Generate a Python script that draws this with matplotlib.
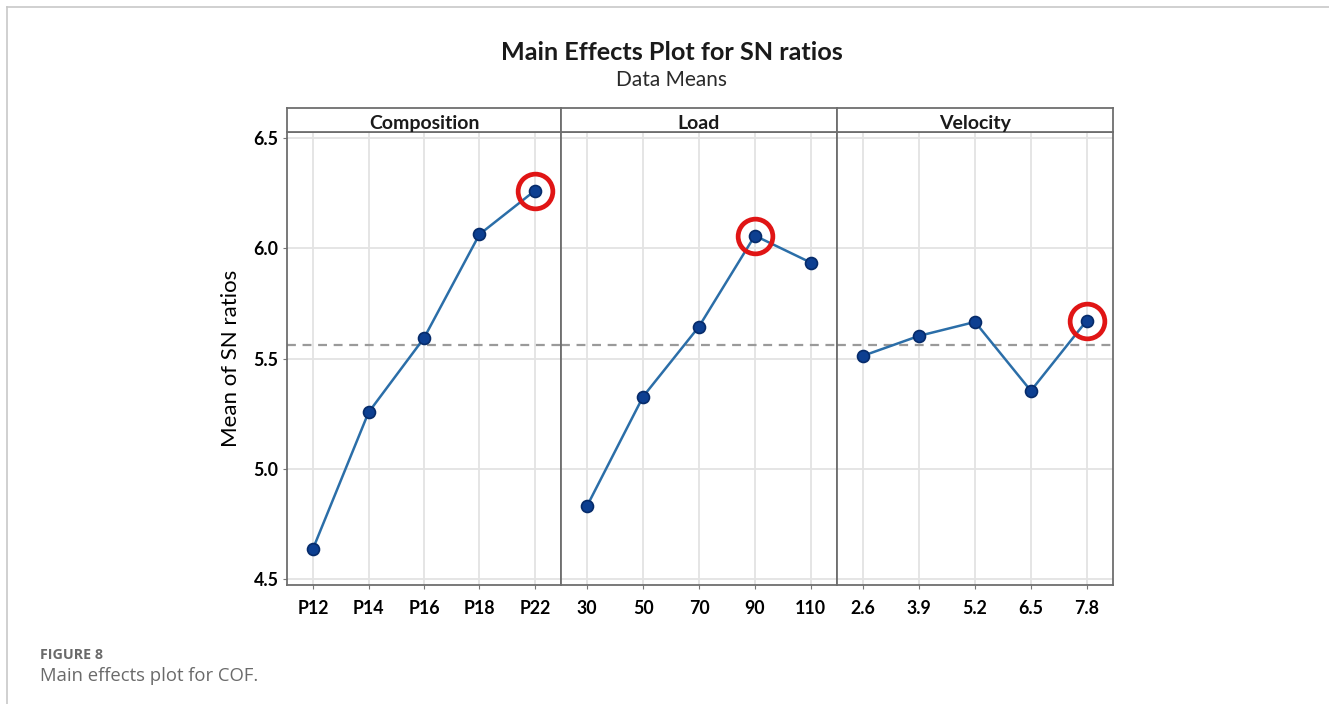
import matplotlib
matplotlib.use("Agg")
import matplotlib.pyplot as plt
from matplotlib.lines import Line2D
import numpy as np

# ---- data ----
factors = ["Composition", "Load", "Velocity"]
composition_levels = ["P12", "P14", "P16", "P18", "P22"]
composition_means = [4.640, 5.257, 5.594, 6.064, 6.262]
load_levels = ["30", "50", "70", "90", "110"]
load_means = [4.835, 5.329, 5.646, 6.058, 5.936]
velocity_levels = ["2.6", "3.9", "5.2", "6.5", "7.8"]
velocity_means = [5.514, 5.604, 5.667, 5.355, 5.673]
yticks = [4.5, 5.0, 5.5, 6.0, 6.5]

levels = [composition_levels, load_levels, velocity_levels]
means = [composition_means, load_means, velocity_means]
grand_mean = np.mean(composition_means + load_means + velocity_means)

W, H = 1329, 704
fig = plt.figure(figsize=(W / 100, H / 100), dpi=100)
fig.patch.set_facecolor("white")

def fx(px):
    return px / W

def fy(py):
    return 1 - py / H

# page border lines
fig.add_artist(Line2D([fx(7), 1], [fy(7), fy(7)], color="#c8c8c8", lw=1.2))
fig.add_artist(Line2D([fx(7), fx(7)], [fy(7), 0], color="#c8c8c8", lw=1.2))

font = "Lato"
spine_c = "#6e6e6e"
panel_x = [287, 561, 837, 1113]
top_px, bot_px, head_px = 131.5, 585, 108

for i, name in enumerate(factors):
    x0, x1 = panel_x[i], panel_x[i + 1]
    ax = fig.add_axes([fx(x0), fy(bot_px), fx(x1 - x0), fy(top_px) - fy(bot_px)])
    x = np.arange(len(levels[i]))
    ax.set_xlim(-0.47, len(x) - 1 + 0.47)
    ax.set_ylim(4.475, 6.53)
    ax.set_xticks(x)
    ax.set_xticklabels(levels[i], fontfamily=font, fontweight="bold", fontsize=12.8)
    ax.set_yticks(yticks)
    ax.grid(True, color="#e3e3e3", lw=1.3)
    ax.set_axisbelow(True)
    ax.axhline(grand_mean, color="#9a9a9a", lw=1.6, ls=(0, (4, 3)), zorder=1)
    ax.plot(x, means[i], color="#2b6ea8", lw=1.8, marker="o", ms=8.6,
            mfc="#0d3f91", mec="#062b6a", mew=1.2, zorder=3)
    j = int(np.argmax(means[i]))
    ax.plot([x[j]], [means[i][j]], marker="o", ms=25, mfc="none", mec="#e01515",
            mew=3.4, zorder=4)
    ax.tick_params(axis="x", length=3, color="#777777", pad=8)
    if i == 0:
        ax.set_yticklabels([f"{v:.1f}" for v in yticks], fontfamily=font,
                           fontweight="bold", fontsize=12.8)
        ax.tick_params(axis="y", length=3, color="#777777", pad=3)
        ax.set_ylabel("Mean of SN ratios", fontfamily=font, fontsize=16, labelpad=9)
    else:
        ax.tick_params(axis="y", length=0, labelleft=False)
    for s in ax.spines.values():
        s.set_color(spine_c)
        s.set_linewidth(1.3)
    # header strip
    hx = fig.add_axes([fx(x0), fy(top_px), fx(x1 - x0), fy(head_px) - fy(top_px)])
    hx.set_xticks([])
    hx.set_yticks([])
    for s in hx.spines.values():
        s.set_color(spine_c)
        s.set_linewidth(1.3)
    hx.text(0.5, 0.32, name, ha="center", va="center", fontfamily=font,
            fontweight="bold", fontsize=14, color="#1a1a1a", transform=hx.transAxes)

fig.text(fx(672), fy(53), "Main Effects Plot for SN ratios", ha="center", va="center",
         fontfamily=font, fontweight="bold", fontsize=18.2, color="#1a1a1a")
fig.text(fx(672), fy(80), "Data Means", ha="center", va="center",
         fontfamily=font, fontsize=15, color="#2a2a2a")

fig.text(fx(40), fy(655), "FIGURE 8", ha="left", va="center", fontfamily="Open Sans",
         fontweight="bold", fontsize=10.3, color="#6a6a6a")
fig.text(fx(40), fy(676), "Main effects plot for COF.", ha="left", va="center",
         fontfamily="Open Sans", fontsize=13.3, color="#6a6a6a")

fig.savefig("out.png", dpi=100, facecolor="white")
